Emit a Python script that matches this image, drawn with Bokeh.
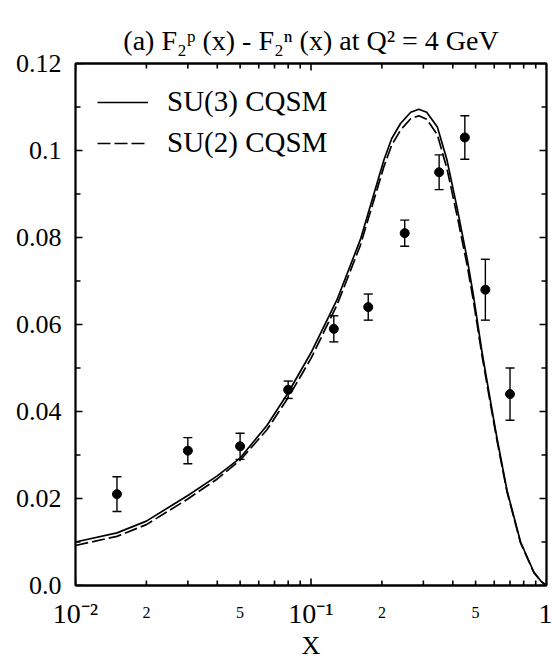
import math
import numpy as np
from bokeh.plotting import figure
from bokeh.models import (Range1d, FixedTicker, LinearAxis, LogAxis, Whisker,
                          TeeHead, ColumnDataSource, CustomJSTickFormatter, Title)
from bokeh.embed import file_html
from bokeh.resources import INLINE

# ---------------- data ----------------
data_x = [0.015, 0.03, 0.05, 0.08, 0.125, 0.175, 0.25, 0.35, 0.45, 0.55, 0.70]
data_y = [0.021, 0.031, 0.032, 0.045, 0.059, 0.064, 0.081, 0.095, 0.103, 0.068, 0.044]
data_err = [0.004, 0.003, 0.003, 0.002, 0.003, 0.003, 0.003, 0.004, 0.005, 0.007, 0.006]

curve_x = [0.01, 0.015, 0.02, 0.03, 0.04, 0.05, 0.065, 0.08, 0.1, 0.129, 0.162, 0.204,
           0.22, 0.24, 0.265, 0.287, 0.31, 0.344, 0.378, 0.418, 0.46, 0.49, 0.533,
           0.58, 0.618, 0.68, 0.776, 0.883, 0.95, 1.0]
su3 = [0.0100, 0.0121, 0.0148, 0.0207, 0.0252, 0.0293, 0.0368, 0.0443, 0.0535, 0.0657,
       0.0795, 0.0978, 0.1027, 0.1062, 0.1088, 0.1095, 0.1088, 0.1054, 0.0978, 0.0866,
       0.0752, 0.0665, 0.0535, 0.0420, 0.0335, 0.0218, 0.0100, 0.0031, 0.0009, 0.0]
su2 = [0.0092, 0.0113, 0.0140, 0.0199, 0.0245, 0.0288, 0.0358, 0.0432, 0.0522, 0.0645,
       0.0782, 0.0963, 0.1012, 0.1047, 0.1073, 0.1080, 0.1072, 0.1036, 0.0958, 0.0848,
       0.0737, 0.0653, 0.0527, 0.0413, 0.0330, 0.0215, 0.0098, 0.0030, 0.0009, 0.0]

y_ticks = [0.0, 0.02, 0.04, 0.06, 0.08, 0.10, 0.12]
y_minor = [0.01, 0.03, 0.05, 0.07, 0.09, 0.11]
y_tick_labels = ["0.0", "0.02", "0.04", "0.06", "0.08", "0.1", "0.12"]
x_major = [0.01, 0.1, 1.0]
x_major_labels = ["10\u207b\u00b2", "10\u207b\u00b9", "1"]
x_minor = [0.02, 0.03, 0.04, 0.05, 0.06, 0.07, 0.08, 0.09,
           0.2, 0.3, 0.4, 0.5, 0.6, 0.7, 0.8, 0.9]
x_small_ticks = [0.02, 0.05, 0.2, 0.5]
x_small_labels = ["2", "5", "2", "5"]
title_text = "(a) F\u2082\u1d56 (x) - F\u2082\u207f (x) at Q\u00b2 = 4 GeV"
x_label = "X"

X_MIN, X_MAX = 0.01, 1.0
Y_MIN, Y_MAX = 0.0, 0.12

# ---------------- layout / style ----------------
W, H = 552, 662
B_L, B_R, B_T, B_B = 75, 6, 63, 75
FRAME_W, FRAME_H = W - B_L - B_R, H - B_T - B_B
MAJ, MIN = 7, 5          # tick lengths in px
FONT = "Liberation Serif"

p = figure(width=W, height=H, x_axis_type="log",
           x_range=Range1d(X_MIN, X_MAX), y_range=Range1d(Y_MIN, Y_MAX),
           output_backend="svg", toolbar_location=None,
           min_border_left=B_L, min_border_right=B_R, min_border_top=B_T,
           min_border_bottom=B_B, x_axis_location=None, y_axis_location=None)
p.grid.visible = False
p.outline_line_color = "black"
p.outline_line_width = 1.8
p.background_fill_alpha = 0
p.border_fill_color = "white"

empty = CustomJSTickFormatter(code="return '';")
yfmt = CustomJSTickFormatter(args=dict(yt=y_ticks, yl=y_tick_labels), code="""
let best = 0;
for (let i = 0; i < yt.length; i++) {
  if (Math.abs(yt[i] - tick) < Math.abs(yt[best] - tick)) best = i;
}
return yl[best];
""")
logfmt_code = """
let best = 0;
for (let i = 0; i < xt.length; i++) {
  if (Math.abs(Math.log(xt[i]) - Math.log(tick)) < Math.abs(Math.log(xt[best]) - Math.log(tick))) best = i;
}
return xl[best];
"""
xfmt = CustomJSTickFormatter(args=dict(xt=x_major, xl=x_major_labels), code=logfmt_code)
xfmt_small = CustomJSTickFormatter(args=dict(xt=x_small_ticks, xl=x_small_labels), code=logfmt_code)


def style_axis(ax, labels=False):
    ax.axis_line_color = "black"
    ax.axis_line_width = 1.8
    ax.major_tick_in = 0
    ax.major_tick_out = 0
    ax.minor_tick_in = 0
    ax.minor_tick_out = 0
    ax.major_tick_line_color = None
    ax.minor_tick_line_color = None
    if not labels:
        ax.formatter = empty
        ax.major_label_standoff = 0
        ax.major_label_text_font_size = "1px"


# bottom axis with decade labels
ax_b = LogAxis(ticker=FixedTicker(ticks=x_major, minor_ticks=x_minor), formatter=xfmt)
style_axis(ax_b, labels=True)
ax_b.major_label_text_font = FONT
ax_b.major_label_text_font_size = "28px"
ax_b.major_label_text_color = "black"
ax_b.major_label_standoff = 12
p.add_layout(ax_b, "below")

# second bottom axis carrying only the small 2 / 5 labels and the axis title
ax_b2 = LogAxis(ticker=FixedTicker(ticks=x_small_ticks), formatter=xfmt_small)
ax_b2.axis_line_color = None
ax_b2.major_tick_line_color = None
ax_b2.minor_tick_line_color = None
ax_b2.major_tick_in = 0
ax_b2.major_tick_out = 0
ax_b2.minor_tick_in = 0
ax_b2.minor_tick_out = 0
ax_b2.major_label_text_font = FONT
ax_b2.major_label_text_font_size = "16px"
ax_b2.major_label_text_color = "black"
ax_b2.major_label_standoff = -25
ax_b2.axis_label = x_label
ax_b2.axis_label_text_font = FONT
ax_b2.axis_label_text_font_size = "26px"
ax_b2.axis_label_text_font_style = "normal"
ax_b2.axis_label_text_color = "black"
ax_b2.axis_label_standoff = 10
p.add_layout(ax_b2, "below")

ax_t = LogAxis(ticker=FixedTicker(ticks=x_major, minor_ticks=x_minor))
style_axis(ax_t)
p.add_layout(ax_t, "above")

ax_l = LinearAxis(ticker=FixedTicker(ticks=y_ticks, minor_ticks=y_minor), formatter=yfmt)
style_axis(ax_l, labels=True)
ax_l.major_label_text_font = FONT
ax_l.major_label_text_font_size = "26px"
ax_l.major_label_text_color = "black"
ax_l.major_label_standoff = 14
p.add_layout(ax_l, "left")
ax_r = LinearAxis(ticker=FixedTicker(ticks=y_ticks, minor_ticks=y_minor))
style_axis(ax_r)
p.add_layout(ax_r, "right")


# inward tick marks on all four sides at the tick values (length given in px),
# drawn as one broken line per side so that nothing is culled
def broken(x0, y0, x1, y1):
    xs, ys = [], []
    for a, b, c, d in zip(x0, y0, x1, y1):
        xs += [a, c, np.nan]
        ys += [b, d, np.nan]
    return np.array(xs, dtype=float), np.array(ys, dtype=float)


decades = math.log10(X_MAX / X_MIN)
for vals, ln in ((x_major, MAJ), (x_minor, MIN)):
    dy = ln * (Y_MAX - Y_MIN) / FRAME_H
    n = len(vals)
    bx, by = broken(vals, [Y_MIN] * n, vals, [Y_MIN + dy] * n)
    p.line(bx, by, line_color="black", line_width=1.6)
    tx, ty = broken(vals, [Y_MAX] * n, vals, [Y_MAX - dy] * n)
    p.line(tx, ty, line_color="black", line_width=1.6)
for vals, ln in ((y_ticks, MAJ), (y_minor, MIN)):
    fx = 10 ** (ln * decades / FRAME_W)
    n = len(vals)
    lx, ly = broken([X_MIN] * n, vals, [X_MIN * fx] * n, vals)
    p.line(lx, ly, line_color="black", line_width=1.6)
    rx, ry = broken([X_MAX] * n, vals, [X_MAX / fx] * n, vals)
    p.line(rx, ry, line_color="black", line_width=1.6)

# title
t = Title(text=title_text, align="center", text_font=FONT, text_font_size="28px",
          text_font_style="normal", text_color="black", standoff=16)
p.add_layout(t, "above")

# curves
r3 = p.line(curve_x, su3, line_color="black", line_width=1.7, legend_label="SU(3) CQSM")
r2 = p.line(curve_x, su2, line_color="black", line_width=1.7, line_dash="13 4",
            legend_label="SU(2) CQSM")

# data with error bars
src = ColumnDataSource(dict(x=data_x, y=data_y,
                            upper=[a + b for a, b in zip(data_y, data_err)],
                            lower=[a - b for a, b in zip(data_y, data_err)]))
wh = Whisker(source=src, base="x", upper="upper", lower="lower", dimension="height",
             line_color="black", line_width=1.4,
             upper_head=TeeHead(size=9, line_color="black", line_width=1.4),
             lower_head=TeeHead(size=9, line_color="black", line_width=1.4))
p.add_layout(wh)
p.scatter("x", "y", source=src, size=9, color="black")

# legend
lg = p.legend[0]
lg.location = "top_left"
lg.border_line_color = None
lg.background_fill_alpha = 0
lg.label_text_font = FONT
lg.label_text_font_size = "29px"
lg.label_text_color = "black"
lg.glyph_width = 51
lg.glyph_height = 30
lg.label_height = 30
lg.spacing = 8
lg.padding = 0
lg.margin = 22
lg.label_standoff = 19

open("out.html", "w").write(file_html(p, INLINE))
